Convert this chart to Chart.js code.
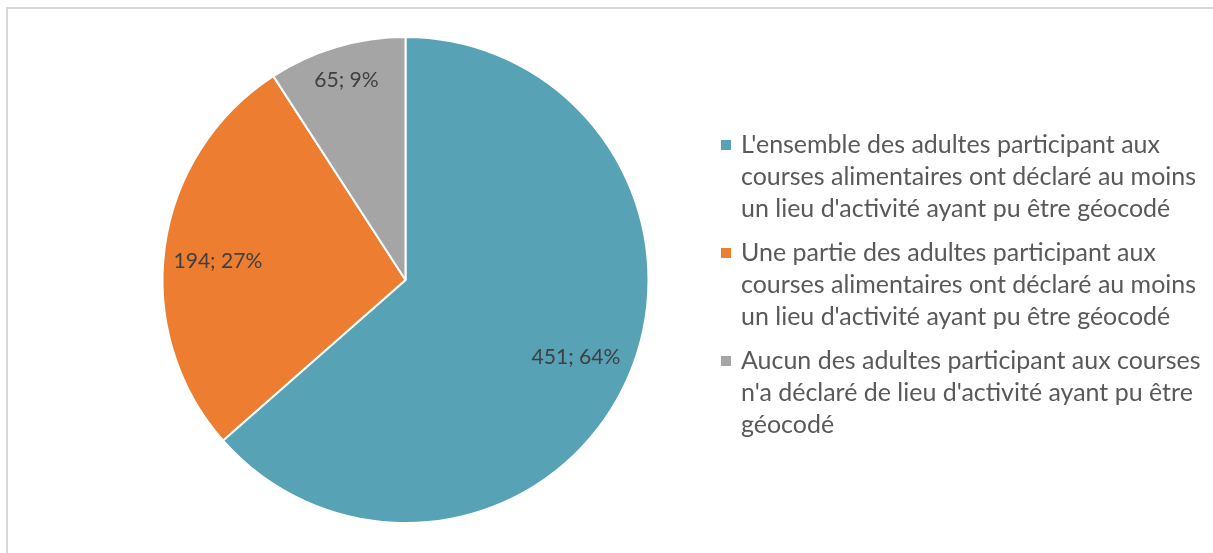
<!DOCTYPE html>
<html>
<head>
<meta charset="utf-8">
<script src="https://cdn.jsdelivr.net/npm/chart.js@4/dist/chart.umd.min.js"></script>
<style>
  html, body { margin: 0; padding: 0; background: #fff; overflow: hidden; }
  #wrap { width: 1213px; height: 553px; position: relative; }
</style>
</head>
<body>
<div id="wrap"><canvas id="c" width="1213" height="553"></canvas></div>
<script>
// Categories (legend text, one entry per wrapped line)
const categories = [
  ["L'ensemble des adultes participant aux", "courses alimentaires ont déclaré au moins", "un lieu d'activité ayant pu être géocodé"],
  ["Une partie des adultes participant aux", "courses alimentaires ont déclaré au moins", "un lieu d'activité ayant pu être géocodé"],
  ["Aucun des adultes participant aux courses", "n'a déclaré de lieu d'activité ayant pu être", "géocodé"]
];
// Number of households in each category
const counts = [451, 194, 65];
const sliceColors = ['#57A2B5', '#ED7D31', '#A5A5A5'];

// Placement of each value label: fraction of the radius, and angular nudge in degrees
const labelRadius = [0.77, 0.776, 0.856];
const labelNudge = [0, -2, 0];

const FONT = 'Lato, "Liberation Sans", sans-serif';

function fitSize(ctx, text, target) {
  ctx.save();
  ctx.font = '100px ' + FONT;
  const w = ctx.measureText(text).width;
  ctx.restore();
  return 100 * target / w;
}

const framePlugin = {
  id: 'frame',
  beforeDraw(chart) {
    const ctx = chart.ctx;
    ctx.save();
    ctx.fillStyle = '#ffffff';
    ctx.fillRect(0, 0, chart.width, chart.height);
    ctx.strokeStyle = '#D9D9D9';
    ctx.lineWidth = 2;
    ctx.strokeRect(7, 8, chart.width + 10, chart.height + 10);
    ctx.restore();
  }
};

const valueLabels = {
  id: 'valueLabels',
  afterDatasetsDraw(chart) {
    const ctx = chart.ctx;
    const meta = chart.getDatasetMeta(0);
    const data = chart.data.datasets[0].data;
    const total = data.reduce((a, b) => a + b, 0);
    const size = fitSize(ctx, '451; 64%', 89);
    ctx.save();
    ctx.font = size.toFixed(2) + 'px ' + FONT;
    ctx.fillStyle = '#404040';
    ctx.textAlign = 'center';
    ctx.textBaseline = 'middle';
    meta.data.forEach((arc, i) => {
      const p = arc.getProps(['x', 'y', 'startAngle', 'endAngle', 'outerRadius'], true);
      const mid = (p.startAngle + p.endAngle) / 2 + labelNudge[i] * Math.PI / 180;
      const r = p.outerRadius * labelRadius[i];
      const pct = Math.round(data[i] / total * 100);
      ctx.fillText(data[i] + '; ' + pct + '%', p.x + Math.cos(mid) * r, p.y + Math.sin(mid) * r);
    });
    ctx.restore();
  }
};

const sideLegend = {
  id: 'sideLegend',
  afterDraw(chart) {
    const ctx = chart.ctx;
    const boxX = 721, textX = 741, box = 10, lineH = 32, itemGap = 12;
    let y = 145;
    const size = fitSize(ctx, 'courses alimentaires ont déclaré au moins', 455);
    ctx.save();
    ctx.font = size.toFixed(2) + 'px ' + FONT;
    ctx.textAlign = 'left';
    ctx.textBaseline = 'middle';
    chart.data.labels.forEach((lines, i) => {
      ctx.fillStyle = chart.data.datasets[0].backgroundColor[i];
      ctx.fillRect(boxX, y - box / 2, box, box);
      ctx.fillStyle = '#595959';
      lines.forEach((ln, k) => ctx.fillText(ln, textX, y + k * lineH));
      y += lines.length * lineH + itemGap;
    });
    ctx.restore();
  }
};

new Chart(document.getElementById('c'), {
  type: 'pie',
  data: {
    labels: categories,
    datasets: [{
      data: counts,
      backgroundColor: sliceColors,
      borderColor: '#ffffff',
      borderWidth: 2,
      radius: 243
    }]
  },
  options: {
    responsive: false,
    animation: false,
    layout: { padding: { left: 162, right: 564, top: 37, bottom: 30 } },
    plugins: {
      legend: { display: false },
      tooltip: { enabled: false }
    }
  },
  plugins: [framePlugin, valueLabels, sideLegend]
});
</script>
</body>
</html>
